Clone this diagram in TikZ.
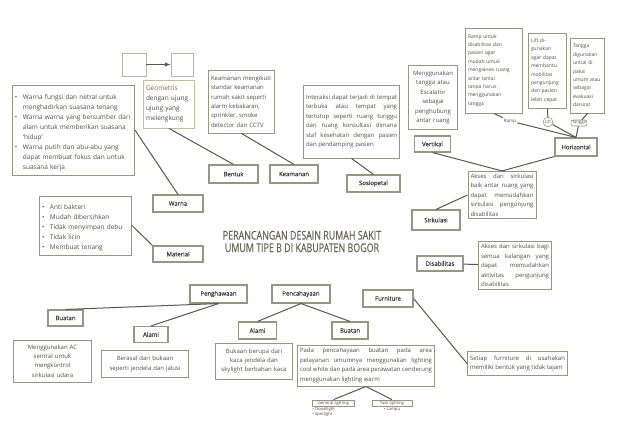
\documentclass[tikz,border=0pt]{standalone}
\usepackage{fontspec}
\setmainfont{Open Sans}
\usepackage{graphicx}
\usetikzlibrary{positioning}
\definecolor{garis}{RGB}{150,150,130}
\definecolor{tali}{RGB}{88,88,78}
\definecolor{tinta}{RGB}{78,78,72}
\definecolor{judul}{RGB}{100,100,88}
\definecolor{zaitun}{RGB}{112,118,40}
\newcommand\teks{\fontsize{6}{9.4}\selectfont\hyphenpenalty=10000\exhyphenpenalty=10000}
\newcommand\teksb{\fontsize{6.5}{10}\selectfont\hyphenpenalty=10000\exhyphenpenalty=10000}
\newcommand\teksk{\fontsize{5}{8.4}\selectfont\hyphenpenalty=10000}
\newcommand\butir{\par\hangindent=8pt\hangafter=1\noindent\makebox[8pt][l]{\textbullet}}

\begin{document}
\begin{tikzpicture}[x=1pt,y=-1pt]
		\tikzstyle{kotak}=[draw=garis, line width=0.9pt, inner sep=2.5pt, font=\teks, text=tinta]
		\tikzstyle{isi}=[kotak, align=left]
		\tikzstyle{label}=[kotak, line width=1.1pt, font=\teks\addfontfeature{FakeBold=0.6}, text=tali!70!black]
		\tikzstyle{kecil}=[draw=garis, line width=0.6pt, inner sep=1pt, font=\fontsize{4.2}{5}\selectfont, text=tinta]
		\tikzstyle{hub}=[draw=tali, line width=1pt]
		\useasboundingbox [fill=white] (0,0) rectangle (635,441);
		\node [kotak, draw=garis!70, minimum width=24pt, minimum height=23pt] (kotakA) at (134,64.5) {};
		\node [kotak, draw=garis!70, minimum width=22pt, minimum height=23pt] (kotakB) at (182,64.5) {};
		\node [isi, font=\teksb, text width=117pt, minimum height=90pt] (warnaText) at (73.5,130) {%
			\butir Warna fungsi dan netral untuk menghadirkan suasana tenang
			\butir Warna warna yang bersumber dari alam untuk memberikan suasana `hidup'
			\butir Warna putih dan abu-abu yang dapat membuat fokus dan untuk suasana kerja\par};
		\node [isi, draw=zaitun!45, font=\teksb, text width=46pt, minimum height=48pt] (geomText) at (169,104) {{\color{zaitun}Geometris}\\dengan ujung\\ujung yang\\melengkung};
		\node [label, minimum width=50pt, minimum height=17pt] (warna) at (178,203.5) {Warna};
		\node [isi, font=\teksb, text width=87pt, minimum height=59pt] (materialText) at (85.5,225.5) {%
			\butir Anti bakteri
			\butir Mudah dibersihkan
			\butir Tidak menyimpan debu
			\butir Tidak licin
			\butir Membuat tenang\par};
		\node [label, minimum width=50pt, minimum height=16pt] (material) at (178,254) {Material};
		\node [label, minimum width=49pt, minimum height=18pt] (bentuk) at (233.5,174) {Bentuk};
		\node [isi, text width=61pt, minimum height=63pt] (keamananText) at (241.5,101.5) {Keamanan mengikuti\\standar keamanan\\rumah sakit seperti\\alarm kebakaran,\\sprinkler, smoke\\detector dan CCTV};
		\node [label, minimum width=48pt, minimum height=18pt] (keamanan) at (294,174) {Keamanan};
		\node [kotak, align=justify, text width=91pt, minimum height=73pt] (sosialText) at (351.5,121.5) {Interaksi dapat terjadi di tempat terbuka atau tempat yang tertutup seperti ruang tunggu dan ruang konsultasi dimana staf kesehatan dengan pasien dan pendamping pasien};
		\node [label, minimum width=53pt, minimum height=17pt] (sosial) at (373.5,183.5) {Sosiopetal};
		\node [kotak, align=center, text width=44pt, minimum height=64pt] (vertikalText) at (433,97.5) {Menggunakan\\tangga atau\\Escalator\\sebagai\\penghubung\\antar ruang};
		\node [label, minimum width=36pt, minimum height=16pt] (vertikal) at (432.5,144) {Vertikal};
		\node [isi, font=\teksk, text width=52pt, minimum height=85pt] (rampText) at (494,70.5) {Ramp untuk\\disabilitas dan\\pasien agar\\mudah untuk\\mengakses ruang\\antar lantai\\tanpa harus\\menggunakan\\tangga};
		\node [isi, font=\teksk, text width=33pt, minimum height=75pt] (liftText) at (547.5,70.5) {Lift di-\\gunakan\\agar dapat\\membantu\\mobilitas\\pengunjung\\dan pasien\\lebih cepat};
		\node [isi, font=\teksk, text width=29pt, minimum height=75pt] (tanggaText) at (587.5,75.5) {Tangga\\digunakan\\untuk di\\pakai\\umum atau\\sebagai\\evakuasi\\darurat};
		\node [font=\fontsize{4.5}{5}\selectfont, text=tinta, inner sep=1pt] (ramp) at (510,121) {Ramp};
		\node [kecil, circle] (lift) at (548,122) {Lift};
		\node [kecil, rounded corners=2pt] (tangga) at (579,123) {Tangga};
		\node [label, minimum width=42pt, minimum height=18pt] (horizontal) at (576,147) {Horizontal};
		\node [kotak, align=justify, text width=63pt, minimum height=47pt] (sirkulasiText) at (502,195) {Akses dan sirkulasi baik antar ruang yang dapat memudahkan sirkulasi pengunjung disabilitas};
		\node [label, minimum width=48pt, minimum height=20pt] (sirkulasi) at (436,220) {Sirkulasi};
		\node [kotak, align=justify, text width=68pt, minimum height=45pt] (disabilitasText) at (515,265.5) {Akses dan sirkulasi bagi semua kalangan yang dapat memudahkan aktivitas pengunjung disabilitas};
		\node [label, minimum width=46pt, minimum height=15pt] (disabilitas) at (440,263.5) {Disabilitas};
		\node [align=center, text=judul, font=\fontsize{12}{12.5}\selectfont\addfontfeature{FakeBold=0.4}, inner sep=0pt] (judul) at (302,241.5) {\scalebox{0.74}[1]{PERANCANGAN DESAIN RUMAH SAKIT}\\\scalebox{0.74}[1]{UMUM TIPE B DI KABUPATEN BOGOR}};
		\node [label, minimum width=57pt, minimum height=18pt] (penghawaan) at (218.5,294) {Penghawaan};
		\node [label, minimum width=58pt, minimum height=18pt] (pencahayaan) at (301,294) {Pencahayaan};
		\node [label, minimum width=50pt, minimum height=17pt] (furniture) at (388,298.5) {Furniture};
		\node [label, minimum width=35pt, minimum height=16pt] (buatanA) at (65.5,318) {Buatan};
		\node [label, minimum width=34pt, minimum height=16pt] (alamiA) at (151,334.5) {Alami};
		\node [kotak, align=center, text width=73pt, minimum height=42pt] (buatanAText) at (52.5,361) {Menggunakan AC\\sentral untuk\\mengkontrol\\sirkulasi udara};
		\node [kotak, align=center, text width=82pt, minimum height=27pt] (alamiAText) at (145,364) {Berasal dari bukaan\\seperti jendela dan jalusi};
		\node [label, minimum width=38pt, minimum height=17pt] (alamiB) at (257.5,330.5) {Alami};
		\node [label, minimum width=36pt, minimum height=17pt] (buatanB) at (350,330.5) {Buatan};
		\node [kotak, align=center, text width=72pt, minimum height=36pt] (alamiBText) at (254,361) {Bukaan berupa dari\\kaca jendela dan\\skylight berbahan kaca};
		\node [kotak, align=justify, text width=132pt, minimum height=41pt] (buatanBText) at (366,365.5) {Pada pencahayaan buatan pada area pelayanan umumnya menggunakan lighting cool white dan pada area perawatan cenderung menggunakan lighting warm};
		\node [kecil, minimum width=42pt] (general) at (333.5,403) {General lighting};
		\node [kecil, minimum width=40pt] (task) at (392,403) {Task lighting};
		\node [below=0.5pt of general.south west, anchor=north west, align=left, inner sep=0pt, font=\fontsize{4.2}{5.2}\selectfont, text=tinta] (generalIsi) {\textbullet\ Downlight\\\textbullet\ Spotlight};
		\node [below=0.5pt of task.south, anchor=north, align=left, inner sep=0pt, font=\fontsize{4.2}{5.2}\selectfont, text=tinta] (taskIsi) {\textbullet\ Lampu};
		\node [kotak, align=justify, text width=95pt, minimum height=24pt] (furnitureText) at (517.5,363.5) {Setiap furniture di usahakan memiliki bentuk yang tidak tajam};
		\draw [hub, -latex] (kotakA) -- (kotakB);
		\draw [hub] (warnaText.east) -- (warna.north);
		\draw [hub] (materialText.east) -- (material.north west);
		\draw [hub] (geomText.south) -- (bentuk.north);
		\draw [hub] (keamananText.south) -- (keamanan.north);
		\draw [hub] (sosialText.south) -- (sosial.north);
		\draw [hub] (rampText.south) -- (ramp);
		\draw [hub] (liftText.south) -- (lift);
		\draw [hub] (tanggaText.south) -- (tangga);
		\draw [hub] (ramp) -- (horizontal.north);
		\draw [hub] (lift) -- (horizontal.north);
		\draw [hub] (tangga) -- (horizontal.north);
		\draw [hub] (vertikal.south) -- (sirkulasiText.north);
		\draw [hub] (horizontal.south west) -- (sirkulasiText.north);
		\draw [hub] (sirkulasiText.west) -- (sirkulasi.north);
		\draw [hub] (disabilitas) -- (disabilitasText);
		\draw [hub] (penghawaan.south) -- (buatanA.north);
		\draw [hub] (penghawaan.south) -- (alamiA.north);
		\draw [hub] (pencahayaan.south) -- (alamiB.north);
		\draw [hub] (pencahayaan.south) -- (buatanB.north);
		\draw [hub] (furniture.east) -- (furnitureText.west);
		\draw [hub] (buatanBText.south) -- (general.north);
		\draw [hub] (buatanBText.south) -- (task.north);
	\end{tikzpicture}
\end{document}
